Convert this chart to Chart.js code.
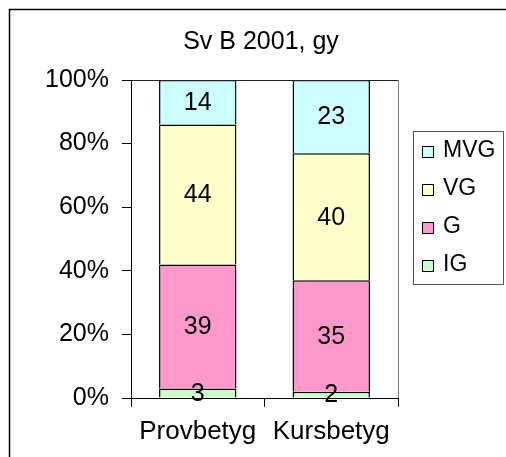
<!DOCTYPE html>
<html>
<head>
<meta charset="utf-8">
<script src="https://cdn.jsdelivr.net/npm/chart.js@4/dist/chart.umd.min.js"></script>
<style>
  html, body { margin: 0; padding: 0; background: #fff; }
  #wrap { width: 506px; height: 457px; }
</style>
</head>
<body>
<div id="wrap"><canvas id="gradesChart" width="506" height="457"></canvas></div>
<script>
// Data (percent of students)
const categories = ["Provbetyg", "Kursbetyg"];
const gradeNames = ["IG", "G", "VG", "MVG"];
const igValues = [3, 2];
const gValues = [39, 35];
const vgValues = [44, 40];
const mvgValues = [14, 23];
const yTicks = [0, 20, 40, 60, 80, 100];
const chartTitle = "Sv B 2001, gy";

const fillColors = ["#ccffcc", "#ff99cc", "#ffffcc", "#ccffff"];
const font = "'Liberation Sans', Arial, sans-serif";

// outer frame, title, plot area top/right lines
const framePlugin = {
  id: "frame",
  beforeDraw(chart) {
    const c = chart.ctx;
    c.save();
    c.fillStyle = "#fff";
    c.fillRect(0, 0, chart.width, chart.height);
    c.strokeStyle = "#000";
    c.lineWidth = 1.5;
    c.strokeRect(9.5, 9.5, 700, 700);
    c.font = "25px " + font;
    c.fillStyle = "#000";
    c.textAlign = "center";
    c.textBaseline = "middle";
    c.fillText(chartTitle, 261, 42);
    c.restore();
  },
  afterDraw(chart) {
    const a = chart.chartArea;
    const c = chart.ctx;
    c.save();
    c.lineWidth = 1;
    c.strokeStyle = "#808080";
    c.beginPath();
    c.moveTo(Math.round(a.right) + 0.5, a.top);
    c.lineTo(Math.round(a.right) + 0.5, a.bottom);
    c.stroke();
    c.strokeStyle = "#222";
    c.beginPath();
    c.moveTo(a.left, Math.round(a.top) + 0.5);
    c.lineTo(a.right, Math.round(a.top) + 0.5);
    c.stroke();
    c.restore();
  }
};

// value labels in the middle of each segment
const valueLabels = {
  id: "valueLabels",
  afterDatasetsDraw(chart) {
    const c = chart.ctx;
    c.save();
    c.font = "25px " + font;
    c.fillStyle = "#000";
    c.textAlign = "center";
    c.textBaseline = "middle";
    chart.data.datasets.forEach((ds, i) => {
      chart.getDatasetMeta(i).data.forEach((bar, j) => {
        const mid = (bar.y + bar.base) / 2;
        c.fillText(String(ds.data[j]), bar.x, mid + 1);
      });
    });
    c.restore();
  }
};

// legend box on the right, like the original (MVG on top)
const boxLegend = {
  id: "boxLegend",
  afterDraw(chart) {
    const c = chart.ctx;
    const x = 413.5, y = 131.5, w = 90, h = 153;
    c.save();
    c.strokeStyle = "#555";
    c.lineWidth = 1;
    c.strokeRect(x, y, w, h);
    c.font = "23px " + font;
    c.textBaseline = "middle";
    c.textAlign = "left";
    const ds = chart.data.datasets.slice().reverse();
    ds.forEach((d, k) => {
      const cy = 151 + k * 38;
      c.fillStyle = d.backgroundColor;
      c.fillRect(422.5, cy - 4.5, 11, 11);
      c.strokeStyle = "#000";
      c.strokeRect(422.5, cy - 4.5, 11, 11);
      c.fillStyle = "#000";
      c.fillText(d.label, 443, cy);
    });
    c.restore();
  }
};

const seriesValues = [igValues, gValues, vgValues, mvgValues];

const ctx = document.getElementById("gradesChart").getContext("2d");
new Chart(ctx, {
  type: "bar",
  data: {
    labels: categories,
    datasets: gradeNames.map((name, i) => ({
      label: name,
      data: seriesValues[i],
      backgroundColor: fillColors[i],
      borderColor: "#000",
      borderWidth: 1.5,
      barPercentage: 1,
      categoryPercentage: 0.58
    }))
  },
  options: {
    responsive: false,
    animation: false,
    layout: { padding: { left: 0, right: 108, top: 80, bottom: 0 } },
    plugins: {
      legend: { display: false },
      tooltip: { enabled: false },
      title: { display: false }
    },
    scales: {
      x: {
        stacked: true,
        grid: { display: true, drawOnChartArea: false, drawTicks: true, tickLength: 9, color: "#000", offset: true },
        border: { display: true, color: "#000", width: 1 },
        ticks: { color: "#000", font: { family: font, size: 26 }, padding: 9 },
        afterFit(scale) { scale.height = 59; }
      },
      y: {
        stacked: true,
        min: 0,
        max: 100,
        afterBuildTicks(scale) { scale.ticks = yTicks.map((v) => ({ value: v })); },
        grid: { display: true, drawOnChartArea: false, drawTicks: true, tickLength: 9, color: "#000" },
        border: { display: true, color: "#000", width: 1 },
        ticks: {
          color: "#000",
          font: { family: font, size: 25 },
          padding: 13,
          callback: (v) => v + "%"
        },
        afterFit(scale) { scale.width = 131; }
      }
    }
  },
  plugins: [framePlugin, valueLabels, boxLegend]
});
</script>
</body>
</html>
